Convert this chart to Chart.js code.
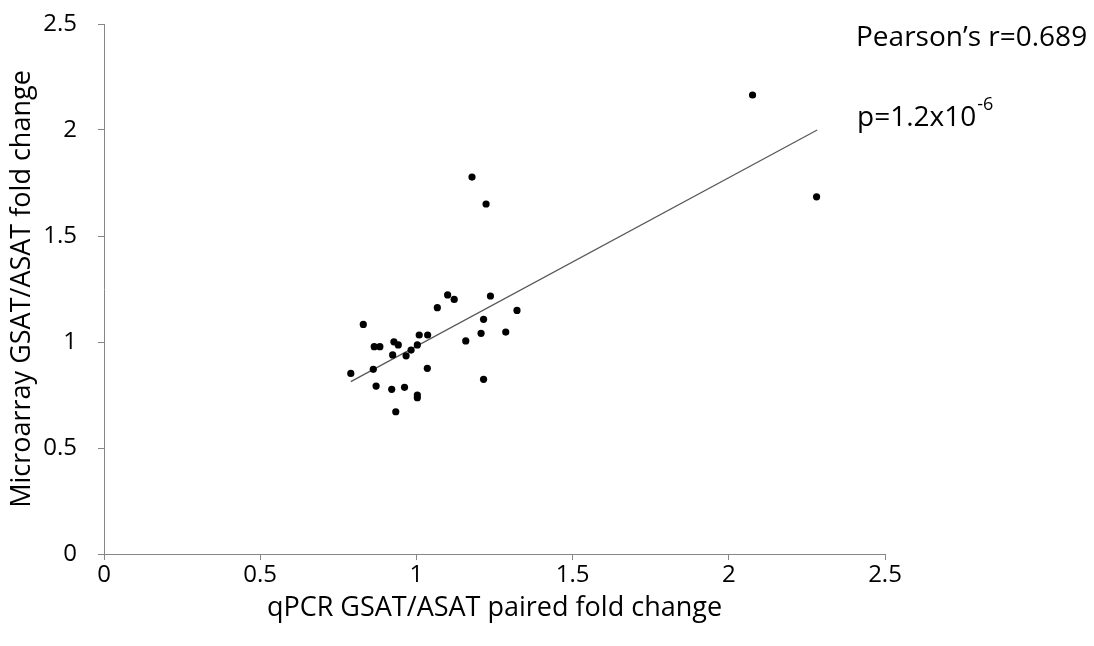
<!DOCTYPE html>
<html>
<head>
<meta charset="utf-8">
<script src="https://cdn.jsdelivr.net/npm/chart.js@4/dist/chart.umd.min.js"></script>
<style>
    html, body { margin: 0; padding: 0; background: #ffffff; }
    #wrap { width: 1094px; height: 646px; position: relative; }
</style>
</head>
<body>
<div id="wrap"><canvas id="chart-scatter"></canvas></div>
<script>
// qPCR (x) vs microarray (y) GSAT/ASAT fold change
const qpcrFold = [
    0.790, 0.830, 0.865, 0.883, 0.862, 0.871, 0.921, 0.928, 0.942, 0.924,
    0.934, 0.962, 0.967, 0.983, 1.003, 1.003, 1.003, 1.009, 1.036, 1.035,
    1.067, 1.100, 1.121, 1.158, 1.207, 1.215, 1.215, 1.237, 1.286, 1.322,
    1.178, 1.223, 2.076, 2.281,
];
const microarrayFold = [
    0.852, 1.083, 0.978, 0.978, 0.871, 0.792, 0.777, 1.001, 0.986, 0.939,
    0.671, 0.786, 0.935, 0.962, 0.986, 0.750, 0.737, 1.033, 1.033, 0.876,
    1.162, 1.222, 1.201, 1.005, 1.041, 1.107, 0.824, 1.217, 1.047, 1.149,
    1.778, 1.651, 2.165, 1.685,
];

// linear trendline end points
const trendX = [0.790, 2.283];
const trendY = [0.813, 2.000];

const xTicks = [0, 0.5, 1, 1.5, 2, 2.5];
const yTicks = [0, 0.5, 1, 1.5, 2, 2.5];

const axisColor = '#868686';
const textColor = '#000000';
const fontFamily = "'Open Sans', 'Liberation Sans', sans-serif";

const annotationPlugin = {
    id: 'statsText',
    afterDraw(chart) {
        const ctx = chart.ctx;
        ctx.save();
        ctx.fillStyle = '#000000';
        ctx.textBaseline = 'alphabetic';
        ctx.textAlign = 'left';
        ctx.font = "28px " + fontFamily;
        ctx.fillText('Pearson\u2019s r=0.689', 856, 46);
        ctx.fillText('p=1.2x10', 857, 126);
        const w = ctx.measureText('p=1.2x10').width;
        ctx.font = "18px " + fontFamily;
        ctx.fillText('-6', 857 + w + 1, 110);
        ctx.restore();
    },
};

new Chart(document.getElementById('chart-scatter'), {
    type: 'scatter',
    data: {
        datasets: [
            {
                label: 'Samples',
                data: qpcrFold.map((x, i) => ({ x: x, y: microarrayFold[i] })),
                backgroundColor: '#000000',
                borderColor: '#000000',
                pointRadius: 3.6,
                pointBorderWidth: 0,
                order: 1,
            },
            {
                label: 'Linear fit',
                type: 'line',
                data: trendX.map((x, i) => ({ x: x, y: trendY[i] })),
                borderColor: '#595959',
                borderWidth: 1.3,
                pointRadius: 0,
                fill: false,
                order: 2,
            },
        ],
    },
    options: {
        responsive: true,
        maintainAspectRatio: false,
        animation: false,
        layout: { padding: { left: 0, right: 209, top: 24, bottom: 0 } },
        plugins: {
            legend: { display: false },
            tooltip: { enabled: false },
        },
        scales: {
            x: {
                type: 'linear',
                min: 0,
                max: 2.5,
                afterBuildTicks: s => { s.ticks = xTicks.map(v => ({ value: v })); },
                afterFit: s => { s.height = 92; s.paddingLeft = 0; s.paddingRight = 0; },
                ticks: {
                    color: textColor,
                    padding: 1,
                    font: { size: 24, family: fontFamily },
                    maxRotation: 0,
                    callback: v => String(v),
                },
                grid: {
                    drawOnChartArea: false,
                    drawTicks: true,
                    tickLength: 6,
                    color: axisColor,
                },
                border: { color: axisColor, width: 1 },
                title: {
                    display: true,
                    text: 'qPCR GSAT/ASAT paired fold change',
                    color: textColor,
                    font: { size: 27, family: fontFamily },
                    padding: { top: 0, bottom: 21 },
                },
            },
            y: {
                type: 'linear',
                min: 0,
                max: 2.5,
                afterBuildTicks: s => { s.ticks = yTicks.map(v => ({ value: v })); },
                afterFit: s => { s.width = 104; s.paddingTop = 0; s.paddingBottom = 0; },
                ticks: {
                    color: textColor,
                    padding: 21,
                    font: { size: 24, family: fontFamily },
                    callback: v => String(v),
                },
                grid: {
                    drawOnChartArea: false,
                    drawTicks: true,
                    tickLength: 6,
                    color: axisColor,
                },
                border: { color: axisColor, width: 1 },
                title: {
                    display: true,
                    text: 'Microarray GSAT/ASAT fold change',
                    color: textColor,
                    font: { size: 27, family: fontFamily },
                    padding: { top: 6, bottom: 0 },
                },
            },
        },
    },
    plugins: [annotationPlugin],
});
</script>
</body>
</html>
